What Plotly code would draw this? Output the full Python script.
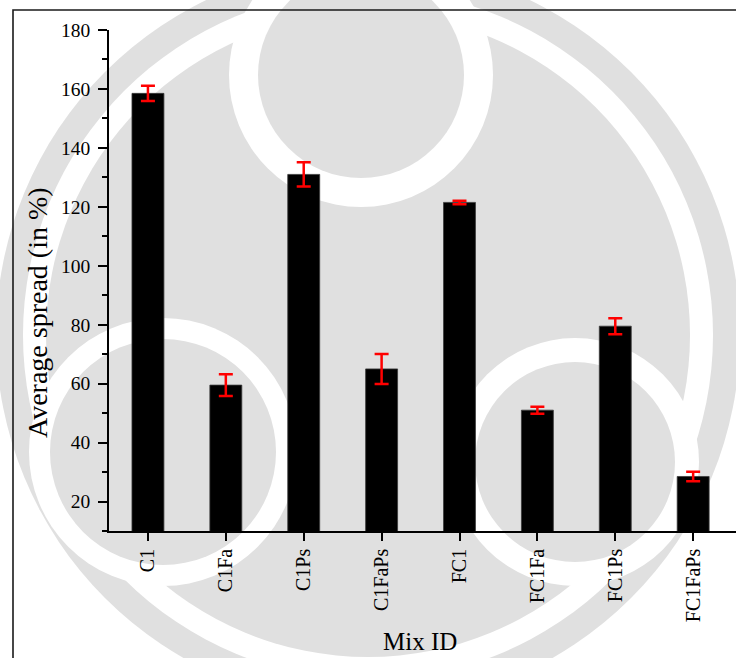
import plotly.graph_objects as go

# Mix designations and measured average spread (%) with error (±)
mix_ids = ["C1", "C1Fa", "C1Ps", "C1FaPs", "FC1", "FC1Fa", "FC1Ps", "FC1FaPs"]
avg_spread = [158.5, 59.5, 131.0, 65.0, 121.5, 51.0, 79.5, 28.5]
spread_err = [2.6, 3.7, 4.1, 5.1, 0.6, 1.2, 2.7, 1.6]

y_ticks = [20, 40, 60, 80, 100, 120, 140, 160, 180]

W_PX, H_PX = 736, 658
M_L, M_R, M_T, M_B = 109, 0, 30, 127
PLOT_W = W_PX - M_L - M_R
PLOT_H = H_PX - M_T - M_B


def px(x):
    return (x - M_L) / PLOT_W


def py(y):
    return (M_T + PLOT_H - y) / PLOT_H


def disk(cx, cy, r, color):
    return dict(type="circle", xref="paper", yref="paper", layer="below",
                x0=px(cx - r), x1=px(cx + r), y0=py(cy + r), y1=py(cy - r),
                fillcolor=color, line=dict(width=0))


GREY = "#e0e0e0"
WHITE = "#ffffff"

# faint background emblem
shapes = [
    disk(368, 335, 372, GREY),
    disk(368, 335, 345, WHITE),
    disk(368, 335, 322, GREY),
    disk(361, 75, 132, WHITE),
    disk(163, 452, 134, WHITE),
    disk(575, 462, 124, WHITE),
    disk(361, 75, 103, GREY),
    disk(163, 452, 113, GREY),
    disk(575, 462, 100, GREY),
]

# outer frame (left and top edges)
shapes.append(dict(type="path", xref="paper", yref="paper", layer="above",
                   path=f"M {px(13)} {py(H_PX + 5)} L {px(13)} {py(10)} L {px(W_PX + 5)} {py(10)}",
                   line=dict(color="#1a1a1a", width=1.6)))

fig = go.Figure()
fig.add_trace(go.Bar(
    x=mix_ids, y=avg_spread, width=0.41,
    marker=dict(color="black", line=dict(color="#3a3a3a", width=0.8)),
    error_y=dict(type="data", array=spread_err, visible=True,
                 color="#ff0000", thickness=2.5, width=7),
))

FONT = "Liberation Serif"

fig.update_layout(
    width=W_PX, height=H_PX,
    margin=dict(l=M_L, r=M_R, t=M_T, b=M_B, pad=0),
    paper_bgcolor="white", plot_bgcolor="rgba(0,0,0,0)",
    showlegend=False,
    font=dict(family=FONT, color="black"),
    shapes=shapes,
    xaxis=dict(
        type="category", range=[-0.5, 7.55],
        showline=True, linecolor="black", linewidth=1.6,
        ticks="outside", ticklen=8, tickwidth=1.6, tickcolor="black",
        tickangle=-90, tickfont=dict(family=FONT, size=20),
        showgrid=False, zeroline=False,
    ),
    yaxis=dict(
        range=[10, 180], tickvals=y_ticks,
        showline=True, linecolor="black", linewidth=1.6,
        ticks="outside", ticklen=9, tickwidth=1.6, tickcolor="black",
        tickfont=dict(family=FONT, size=19.5), ticklabelstandoff=4,
        minor=dict(ticks="outside", ticklen=5, tickwidth=1.6, tickcolor="black",
                   tickvals=[10, 30, 50, 70, 90, 110, 130, 150, 170]),
        showgrid=False, zeroline=False,
    ),
    annotations=[
        dict(text="Average spread (in %)", xref="paper", yref="paper",
             x=px(37), y=py(313), textangle=-90, showarrow=False,
             font=dict(family=FONT, size=28), xanchor="center", yanchor="middle"),
        dict(text="Mix ID", xref="paper", yref="paper",
             x=px(420), y=py(641), showarrow=False,
             font=dict(family=FONT, size=25), xanchor="center", yanchor="middle"),
    ],
)

fig.write_html("out.html")
